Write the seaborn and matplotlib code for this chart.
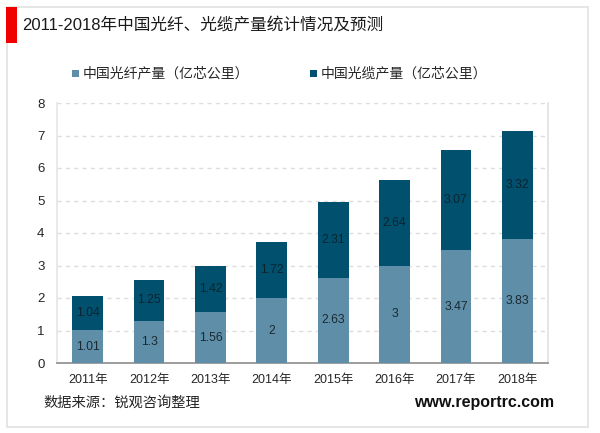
import matplotlib
matplotlib.use('Agg')
import matplotlib.pyplot as plt
import pandas as pd
import seaborn as sns
from matplotlib.patches import Rectangle

years = ['2011年', '2012年', '2013年', '2014年', '2015年', '2016年', '2017年', '2018年']
fiber = [1.01, 1.3, 1.56, 2, 2.63, 3, 3.47, 3.83]
cable = [1.04, 1.25, 1.42, 1.72, 2.31, 2.64, 3.07, 3.32]

sns.set_theme(style='white')
plt.rcParams['font.family'] = ['Liberation Sans', 'Noto Sans CJK SC', 'DejaVu Sans']
plt.rcParams['axes.unicode_minus'] = False

df = pd.DataFrame({'year': years, 'fiber': fiber, 'cable': cable})
light = '#5f8fa8'
dark = '#00506e'

fig = plt.figure(figsize=(6, 4.33), dpi=100)
W, H = 600, 433

# outer frame and red marker
fig.add_artist(Rectangle((6.5 / W, 1 - 427 / H), 581 / W, 420 / H, fill=False, ec='#e2e2e2', lw=1.2))
fig.add_artist(Rectangle((6 / W, 1 - 43 / H), 11 / W, 36 / H, fc='#f00000', ec='none'))

ax = fig.add_axes([57 / W, 1 - 363 / H, 491 / W, 260 / H])
sns.barplot(data=df, x='year', y='fiber', color=light, width=0.5, saturation=1, edgecolor='none', ax=ax, zorder=3)
sns.barplot(data=df, x='year', y='cable', bottom=df['fiber'], color=dark, width=0.5, saturation=1, edgecolor='none', ax=ax, zorder=3)

ax.set_xlim(-0.5, 7.5)
ax.set_ylim(0, 8)
ax.set_xlabel('')
ax.set_ylabel('')
ax.set_axisbelow(True)
ax.yaxis.grid(True, color='#dddddd', ls=(0, (3, 3)), lw=1)
ax.spines['top'].set_visible(False)
ax.spines['left'].set_color('#e6e6e6')
ax.spines['right'].set_color('#e2e2e2')
ax.spines['bottom'].set_color('#8c8c8c')
ax.spines['bottom'].set_linewidth(1.2)
ax.tick_params(axis='x', length=0, labelsize=9, pad=8, colors='#262626')
ax.tick_params(axis='y', length=0, labelsize=9.5, pad=9, colors='#262626')

for i in range(len(years)):
    ax.text(i, fiber[i] / 2, f'{fiber[i]:g}', ha='center', va='center', fontsize=8.8, color='#1a2a33', zorder=4)
    ax.text(i, fiber[i] + cable[i] / 2, f'{cable[i]:g}', ha='center', va='center', fontsize=8.8, color='#0c2430', zorder=4)

fig.text(22 / W, 1 - 25 / H, '2011-2018年中国光纤、光缆产量统计情况及预测', fontsize=12, va='center', color='#1a1a1a')

# legend drawn by hand so spacing stays like the original
fig.add_artist(Rectangle((72 / W, 1 - 77 / H), 7 / W, 7 / H, fc=light, ec='none'))
fig.text(83 / W, 1 - 73 / H, '中国光纤产量（亿芯公里）', fontsize=10, va='center', color='#262626')
fig.add_artist(Rectangle((310 / W, 1 - 77 / H), 7 / W, 7 / H, fc=dark, ec='none'))
fig.text(321 / W, 1 - 73 / H, '中国光缆产量（亿芯公里）', fontsize=10, va='center', color='#262626')

fig.text(43 / W, 1 - 403 / H, '数据来源：锐观咨询整理', fontsize=10.3, va='center', color='#262626')
fig.text(554 / W, 1 - 403 / H, 'www.reportrc.com', fontsize=11.5, fontweight='bold', ha='right', va='center', color='#111111')

fig.savefig('out.png', dpi=100)
